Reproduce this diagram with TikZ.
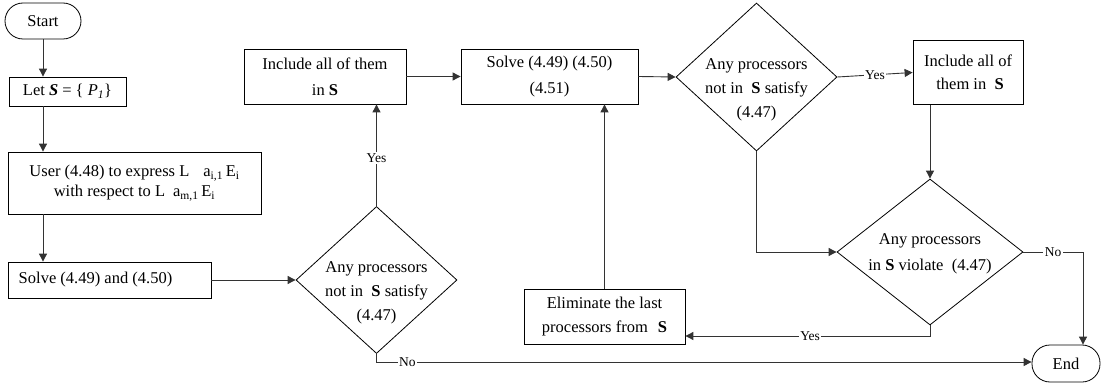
\documentclass[tikz,border=0pt]{standalone}
\usepackage{fontspec}
\setmainfont{Liberation Serif}
\usetikzlibrary{arrows.meta,shapes.geometric}
\begin{document}
\begin{tikzpicture}[x=1pt,y=-1pt,
  font=\fontsize{16.5}{24}\selectfont,
  box/.style={draw=black,line width=0.8pt,rectangle,inner sep=0pt,align=center},
  term/.style={draw=black,line width=0.8pt,rectangle,rounded corners=18pt,inner sep=0pt},
  dec/.style={draw=black,line width=0.8pt,diamond,inner sep=0pt},
  txt/.style={inner sep=0pt,align=center},
  conn/.style={draw=black!80,line width=0.9pt},
  arr/.style={conn,-{Triangle[length=8pt,width=8pt]}},
  lbl/.style={fill=white,inner sep=1.5pt,font=\fontsize{13.5}{16}\selectfont}]
\useasboundingbox (0,0) rectangle (1106,385);

% terminals
\node[term,minimum width=76pt,minimum height=36pt] (start) at (43,21) {Start};
\node[term,minimum width=68pt,minimum height=37pt] (end) at (1066,363.5) {End};

% process boxes
\node[box,minimum width=117pt,minimum height=29pt] (let) at (67.5,91.5)
  {Let \textbf{\textit{S}} = \{ \textit{P}\textsubscript{\textit{1}}\}};
\node[box,minimum width=253pt,minimum height=62pt,font=\fontsize{16.5}{20}\selectfont] (user) at (134.5,183)
  {User (4.48) to express L\hspace{14pt}a\textsubscript{i,1}\,E\textsubscript{i}\\
   with respect to L\hspace{8pt}a\textsubscript{m,1}\,E\textsubscript{i}};
\node[box,minimum width=203pt,minimum height=36pt] (solveA) at (109.5,280)
  {Solve (4.49) and (4.50)\hspace{28pt}};
\node[box,minimum width=162pt,minimum height=55pt,font=\fontsize{16.5}{26}\selectfont] (incA) at (325,76.5)
  {Include all of them\\in \textbf{S}};
\node[box,minimum width=177pt,minimum height=55pt,font=\fontsize{16.5}{26}\selectfont] (solveB) at (549.5,76.5)
  {Solve (4.49) (4.50)\\(4.51)};
\node[box,minimum width=110pt,minimum height=64pt,font=\fontsize{16.5}{23}\selectfont] (incB) at (968,72.5)
  {Include all of\\\ them in\ \ \textbf{S}};
\node[box,minimum width=161pt,minimum height=55pt] (elim) at (604.5,316.5)
  {Eliminate the last\hspace{14pt}\\processors from\hspace{10pt}\textbf{S}};

% decisions
\node[dec,minimum width=161pt,minimum height=147pt] (dA) at (376.5,280) {};
\node[txt] (dAt) at (376.5,293) {Any processors\\not in\ \ \textbf{S} satisfy\\(4.47)};
\node[dec,minimum width=161pt,minimum height=148pt] (dB) at (756.5,77) {};
\node[txt] (dBt) at (756.5,90) {Any processors\\not in\ \ \textbf{S} satisfy\\(4.47)};
\node[dec,minimum width=186pt,minimum height=146pt] (dC) at (930,252) {};
\node[txt,font=\fontsize{16.5}{26}\selectfont] (dCt) at (930,254) {Any processors\\in \textbf{S} violate\ \ (4.47)};

% connectors
\draw[arr] (start.south) -- (start.south |- let.north);
\draw[arr] (let.south -| start) -- (start |- user.north);
\draw[arr] (user.south -| start) -- (start |- solveA.north);
\draw[arr] (solveA.east) -- (dA.west);
\draw[arr] (dA.north) -- node[lbl,pos=0.47] {Yes} (dA.north |- incA.south);
\draw[arr] (incA.east) -- (solveB.west);
\draw[arr] (solveB.east) -- (dB.west);
\draw[arr] (dB.east) -- node[lbl,pos=0.5] {Yes} (incB.west);
\draw[arr] (incB.south -| dC.north) -- (dC.north);
\draw[arr] (dB.south) |- (dC.west);
\coordinate (cNo) at (1083,252);
\draw[arr] (dC.east) -- node[lbl,pos=0.5] {No} (cNo) -- (cNo |- end.north);
\coordinate (cYes) at (930,336);
\draw[arr] (dC.south) -- (cYes) -- node[lbl,pos=0.49] {Yes} (cYes -| elim.east);
\draw[arr] (elim.north) -- (elim.north |- solveB.south);
\coordinate (cNoA) at (376.5,362);
\draw[arr] (dA.south) -- (cNoA) -- node[lbl,pos=0.047] {No} (cNoA -| end.west);
\end{tikzpicture}
\end{document}
